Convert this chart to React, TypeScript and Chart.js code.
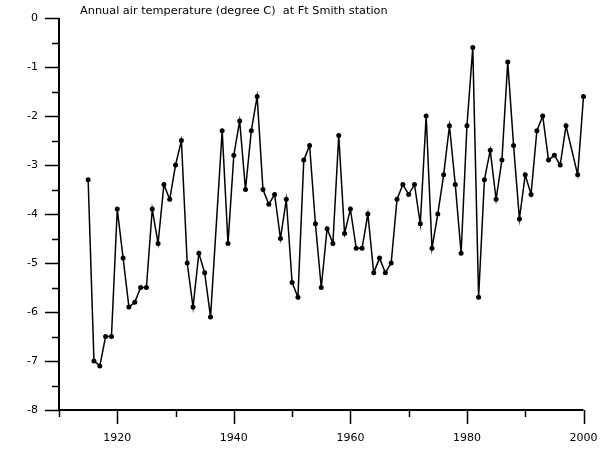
import React, { useEffect, useRef } from "react";
import { Chart, registerables } from "chart.js";

Chart.register(...registerables);

const TITLE = "Annual air temperature (degree C)  at Ft Smith station";

const years: number[] = [
  1915, 1916, 1917, 1918, 1919, 1920, 1921, 1922, 1923, 1924,
  1925, 1926, 1927, 1928, 1929, 1930, 1931, 1932, 1933, 1934,
  1935, 1936, 1938, 1939, 1940, 1941, 1942, 1943, 1944, 1945,
  1946, 1947, 1948, 1949, 1950, 1951, 1952, 1953, 1954, 1955,
  1956, 1957, 1958, 1959, 1960, 1961, 1962, 1963, 1964, 1965,
  1966, 1967, 1968, 1969, 1970, 1971, 1972, 1973, 1974, 1975,
  1976, 1977, 1978, 1979, 1980, 1981, 1982, 1983, 1984, 1985,
  1986, 1987, 1988, 1989, 1990, 1991, 1992, 1993, 1994, 1995,
  1996, 1997, 1999, 2000,
];

const temps: number[] = [
  -3.3, -7.0, -7.1, -6.5, -6.5, -3.9, -4.9, -5.9, -5.8, -5.5,
  -5.5, -3.9, -4.6, -3.4, -3.7, -3.0, -2.5, -5.0, -5.9, -4.8,
  -5.2, -6.1, -2.3, -4.6, -2.8, -2.1, -3.5, -2.3, -1.6, -3.5,
  -3.8, -3.6, -4.5, -3.7, -5.4, -5.7, -2.9, -2.6, -4.2, -5.5,
  -4.3, -4.6, -2.4, -4.4, -3.9, -4.7, -4.7, -4.0, -5.2, -4.9,
  -5.2, -5.0, -3.7, -3.4, -3.6, -3.4, -4.2, -2.0, -4.7, -4.0,
  -3.2, -2.2, -3.4, -4.8, -2.2, -0.6, -5.7, -3.3, -2.7, -3.7,
  -2.9, -0.9, -2.6, -4.1, -3.2, -3.6, -2.3, -2.0, -2.9, -2.8,
  -3.0, -2.2, -3.2, -1.6,
];

const xMajorTicks: number[] = [1920, 1940, 1960, 1980, 2000];
const xMinorTicks: number[] = [1910, 1930, 1950, 1970, 1990];
const yMajorTicks: number[] = [0, -1, -2, -3, -4, -5, -6, -7, -8];
const yMinorTicks: number[] = [-0.5, -1.5, -2.5, -3.5, -4.5, -5.5, -6.5, -7.5];

const FONT = '"DejaVu Sans", Verdana, sans-serif';

export default function App() {
  const ref = useRef<HTMLCanvasElement | null>(null);

  useEffect(() => {
    if (!ref.current) return;

    const tickPlugin = {
      id: "customTicks",
      afterDraw(chart: any) {
        const ctx = chart.ctx;
        const xs = chart.scales.x;
        const ys = chart.scales.y;
        const area = chart.chartArea;
        ctx.save();
        ctx.strokeStyle = "#000";
        ctx.lineWidth = 2;
        ctx.beginPath();
        ctx.moveTo(area.left, area.top);
        ctx.lineTo(area.left, area.bottom);
        ctx.lineTo(area.right, area.bottom);
        ctx.stroke();
        ctx.lineWidth = 1.5;
        ctx.beginPath();
        xMajorTicks.forEach((v) => {
          const px = Math.round(xs.getPixelForValue(v)) + 0.5;
          ctx.moveTo(px, area.bottom);
          ctx.lineTo(px, area.bottom + 14);
        });
        xMinorTicks.forEach((v) => {
          const px = Math.round(xs.getPixelForValue(v)) + 0.5;
          ctx.moveTo(px, area.bottom);
          ctx.lineTo(px, area.bottom + 7);
        });
        yMajorTicks.forEach((v) => {
          const py = Math.round(ys.getPixelForValue(v)) + 0.5;
          ctx.moveTo(area.left, py);
          ctx.lineTo(area.left - 14, py);
        });
        yMinorTicks.forEach((v) => {
          const py = Math.round(ys.getPixelForValue(v)) + 0.5;
          ctx.moveTo(area.left, py);
          ctx.lineTo(area.left - 7, py);
        });
        ctx.stroke();
        ctx.fillStyle = "#000";
        ctx.font = "11.3px " + FONT;
        ctx.textAlign = "left";
        ctx.textBaseline = "alphabetic";
        ctx.fillText(TITLE, 80, 14);
        ctx.restore();
      },
    };

    const chart = new Chart(ref.current, {
      type: "line",
      data: {
        datasets: [
          {
            data: years.map((y, i) => ({ x: y, y: temps[i] })),
            borderColor: "#000",
            backgroundColor: "#000",
            borderWidth: 1.5,
            pointRadius: 2.5,
            pointBorderWidth: 0,
            pointBackgroundColor: "#000",
            tension: 0,
            fill: false,
            clip: 6,
          },
        ],
      },
      options: {
        animation: false,
        responsive: false,
        maintainAspectRatio: false,
        layout: { padding: { top: 18, right: 16.5, left: 0, bottom: 0 } },
        plugins: {
          legend: { display: false },
          title: { display: false },
          tooltip: { enabled: false },
        },
        scales: {
          x: {
            type: "linear",
            min: 1910,
            max: 2000,
            afterBuildTicks: (scale: any) => {
              scale.ticks = xMajorTicks.map((v) => ({ value: v }));
            },
            afterFit: (scale: any) => {
              scale.height = 62;
              scale.paddingLeft = 0;
              scale.paddingRight = 0;
            },
            grid: { display: false, drawTicks: false },
            border: { display: false },
            ticks: {
              autoSkip: false,
              maxRotation: 0,
              padding: 22,
              color: "#000",
              font: { family: FONT, size: 11 },
              callback: (v: any) => String(v),
            },
          },
          y: {
            type: "linear",
            min: -8,
            max: 0,
            afterBuildTicks: (scale: any) => {
              scale.ticks = yMajorTicks.map((v) => ({ value: v }));
            },
            afterFit: (scale: any) => {
              scale.width = 59;
              scale.paddingTop = 0;
              scale.paddingBottom = 0;
            },
            grid: { display: false, drawTicks: false },
            border: { display: false },
            ticks: {
              autoSkip: false,
              padding: 21,
              color: "#000",
              font: { family: FONT, size: 11 },
              callback: (v: any) => String(v),
            },
          },
        },
      },
      plugins: [tickPlugin],
    });

    return () => chart.destroy();
  }, []);

  return (
    <div style={{ position: "absolute", left: 0, top: 0, width: 600, height: 472, background: "#fff" }}>
      <canvas ref={ref} width={600} height={472} style={{ width: 600, height: 472 }} />
    </div>
  );
}
